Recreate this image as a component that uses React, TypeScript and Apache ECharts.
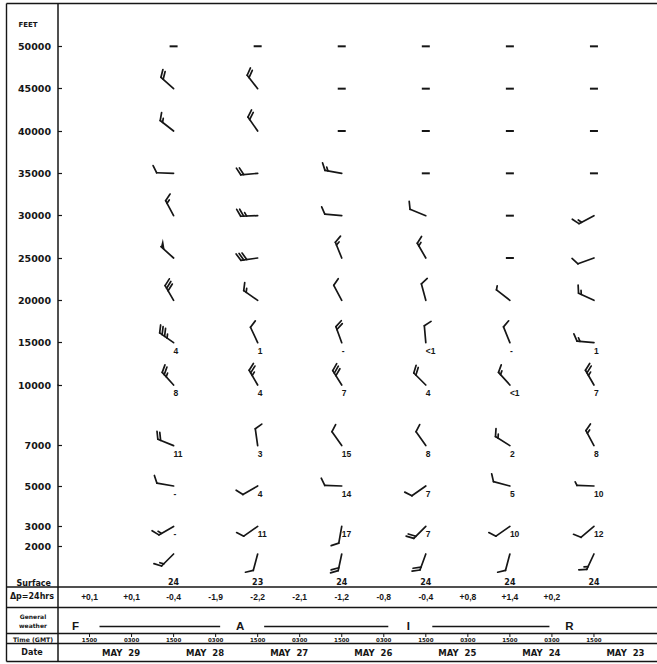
import React, { useEffect, useRef } from 'react';
import * as echarts from 'echarts';

// ---------------- DATA ----------------
// Sounding columns (left → right), all at 1500 GMT
const days = [28, 27, 26, 25, 24, 23];
const obsHour = 15;

// Wind direction (deg, blowing from) and speed (kt); null = missing ("–")
const dir50000 = [null, null, null, null, null, null];
const spd50000 = [null, null, null, null, null, null];
const dir45000 = [312, 322, null, null, null, null];
const spd45000 = [20, 20, null, null, null, null];
const dir40000 = [308, 325, null, null, null, null];
const spd40000 = [15, 20, null, null, null, null];
const dir35000 = [272, 265, 280, null, null, null];
const spd35000 = [10, 20, 15, null, null, null];
const dir30000 = [332, 268, 275, 292, null, 242];
const spd30000 = [15, 25, 10, 10, null, 15];
const dir25000 = [312, 262, 338, 330, null, 250];
const spd25000 = [50, 30, 15, 15, null, 10];
const dir20000 = [330, 305, 332, 345, 308, 295];
const spd20000 = [30, 15, 10, 10, 5, 15];
const dir15000 = [305, 335, 340, 355, 338, 275];
const spd15000 = [35, 10, 20, 10, 10, 15];
const dir10000 = [318, 330, 328, 315, 318, 330];
const spd10000 = [25, 25, 30, 20, 15, 25];
const dir7000 = [292, 352, 325, 325, 302, 332];
const spd7000 = [20, 10, 10, 10, 15, 15];
const dir5000 = [280, 240, 272, 235, 285, 272];
const spd5000 = [10, 10, 10, 10, 10, 5];
const dir3000 = [240, 235, 190, 225, 235, 230];
const spd3000 = [15, 10, 10, 20, 10, 10];
const dirSurface = [225, 195, 192, 200, 195, 205];
const spdSurface = [15, 10, 20, 20, 10, 15];

// Temperatures (°C) written beside the stations
const temp15000 = ['4', '1', '-', '<1', '-', '1'];
const temp10000 = ['8', '4', '7', '4', '<1', '7'];
const temp7000 = ['11', '3', '15', '8', '2', '8'];
const temp5000 = ['-', '4', '14', '7', '5', '10'];
const temp3000 = ['-', '11', '17', '7', '10', '12'];
const tempSurface = ['24', '23', '24', '24', '24', '24'];

// Y axis tick labels (feet)
const upperTicks = [10000, 15000, 20000, 25000, 30000, 35000, 40000, 45000, 50000];
const lowerTicks = [2000, 3000, 5000, 7000];

// Δp over 24 hrs
const dpDays = [29, 29, 28, 28, 27, 27, 26, 26, 25, 25, 24, 24];
const dpHours = [15, 3, 15, 3, 15, 3, 15, 3, 15, 3, 15, 3];
const dpValues = ['+0,1', '+0,1', '-0,4', '-1,9', '-2,2', '-2,1', '-1,2', '-0,8', '-0,4', '+0,8', '+1,4', '+0,2'];

// General weather
const weatherLetters = ['F', 'A', 'I', 'R'];
const weatherDays = [29, 27, 25, 23];
const weatherHours = [19, 20, 20, 22];

// Time (GMT) row
const timeDays = [29, 29, 28, 28, 27, 27, 26, 26, 25, 25, 24, 24, 23];
const timeHours = [15, 3, 15, 3, 15, 3, 15, 3, 15, 3, 15, 3, 15];

// Date row
const dateDays = [29, 28, 27, 26, 25, 24, 23];
const dateLabelHour = 6;

// ---------------- STYLE / LAYOUT ----------------
const INK = '#161616';
const SANS = 'DejaVu Sans';
const ARIAL = 'Liberation Sans';
const W = 657;
const H = 664;
const AXIS_X = 58;
const FRAME_L = 6.5;
const TOP = 4;
const MID = 385;
const SURF = 587;
const LINE_DP = 607.5;
const LINE_WX = 633.5;
const LINE_TIME = 643.5;
const BOTTOM = 661.5;
const SFC_LIFT = 33;
const STAFF = 17;
const FEATHER = 8;
const GAP = 3;
const FEATHER_ANGLE = 62;

const toHours = (day: number, hour: number) => (day - 22) * 24 + hour;

type BarbItem = { t: number; level: number; dir: number | null; spd: number | null };
type TempItem = { t: number; level: number; text: string };

const upperRows: [number, (number | null)[], (number | null)[]][] = [
  [50000, dir50000, spd50000],
  [45000, dir45000, spd45000],
  [40000, dir40000, spd40000],
  [35000, dir35000, spd35000],
  [30000, dir30000, spd30000],
  [25000, dir25000, spd25000],
  [20000, dir20000, spd20000],
  [15000, dir15000, spd15000],
  [10000, dir10000, spd10000],
];
const lowerRows: [number, (number | null)[], (number | null)[]][] = [
  [7000, dir7000, spd7000],
  [5000, dir5000, spd5000],
  [3000, dir3000, spd3000],
  [0, dirSurface, spdSurface],
];
const tempRows: [number, string[]][] = [
  [15000, temp15000],
  [10000, temp10000],
  [7000, temp7000],
  [5000, temp5000],
  [3000, temp3000],
  [0, tempSurface],
];

function buildBarbs(rows: [number, (number | null)[], (number | null)[]][]): BarbItem[] {
  const out: BarbItem[] = [];
  rows.forEach(([level, dirs, spds]) => {
    days.forEach((d, i) => {
      out.push({ t: toHours(d, obsHour), level, dir: dirs[i], spd: spds[i] });
    });
  });
  return out;
}

function buildTemps(rows: [number, string[]][], upper: boolean): TempItem[] {
  const out: TempItem[] = [];
  rows.forEach(([level, temps]) => {
    if ((level >= 10000) !== upper) return;
    days.forEach((d, i) => out.push({ t: toHours(d, obsHour), level, text: temps[i] }));
  });
  return out;
}

const upperBarbs = buildBarbs(upperRows);
const lowerBarbs = buildBarbs(lowerRows);
const upperTemps = buildTemps(tempRows, true);
const lowerTemps = buildTemps(tempRows, false);

function barbRenderer(items: BarbItem[]) {
  return (params: any, api: any) => {
    const it = items[params.dataIndex];
    const p = api.coord([it.t, it.level]);
    const sx = p[0];
    const sy = it.level === 0 ? p[1] - SFC_LIFT : p[1];
    if (it.dir == null || it.spd == null) {
      return { type: 'rect', shape: { x: sx - 4, y: sy - 1, width: 8, height: 2 }, style: { fill: INK } };
    }
    const a = (it.dir * Math.PI) / 180;
    const ux = Math.sin(a);
    const uy = -Math.cos(a);
    const tx = sx + ux * STAFF;
    const ty = sy + uy * STAFF;
    const b = ((it.dir + FEATHER_ANGLE) * Math.PI) / 180;
    const fx = Math.sin(b);
    const fy = -Math.cos(b);
    const stroke = { stroke: INK, lineWidth: 1.7, lineCap: 'round' };
    const children: any[] = [
      { type: 'line', shape: { x1: sx, y1: sy, x2: tx, y2: ty }, style: stroke },
    ];
    let s = it.spd;
    let d = 0;
    while (s >= 50) {
      const bx = tx - ux * d;
      const by = ty - uy * d;
      children.push({
        type: 'polygon',
        shape: { points: [[bx, by], [bx + fx * FEATHER, by + fy * FEATHER], [tx - ux * (d + 5), ty - uy * (d + 5)]] },
        style: { fill: INK },
      });
      d += 6;
      s -= 50;
    }
    while (s >= 10) {
      const bx = tx - ux * d;
      const by = ty - uy * d;
      children.push({ type: 'line', shape: { x1: bx, y1: by, x2: bx + fx * FEATHER, y2: by + fy * FEATHER }, style: stroke });
      d += GAP;
      s -= 10;
    }
    if (s >= 5) {
      const bx = tx - ux * d;
      const by = ty - uy * d;
      children.push({
        type: 'line',
        shape: { x1: bx, y1: by, x2: bx + fx * FEATHER * 0.5, y2: by + fy * FEATHER * 0.5 },
        style: stroke,
      });
    }
    return { type: 'group', children };
  };
}

function tempRenderer(items: TempItem[]) {
  return (params: any, api: any) => {
    const it = items[params.dataIndex];
    const p = api.coord([it.t, it.level]);
    if (it.level === 0) {
      return {
        type: 'text',
        x: p[0],
        y: p[1] - 5,
        style: { text: it.text, fill: INK, fontFamily: SANS, fontWeight: 'bold', fontSize: 8, align: 'center', verticalAlign: 'middle' },
      };
    }
    return {
      type: 'text',
      x: p[0],
      y: p[1] + 8,
      style: { text: it.text, fill: INK, fontFamily: ARIAL, fontWeight: 'bold', fontSize: 8.5, align: 'left', verticalAlign: 'middle' },
    };
  };
}

function textRow(
  times: number[],
  labels: string[],
  y: number,
  font: { family: string; size: number; weight?: string }
) {
  return {
    type: 'custom',
    xAxisIndex: 1,
    yAxisIndex: 1,
    silent: true,
    clip: false,
    data: times.map((t) => [t, 0]),
    renderItem: (params: any, api: any) => {
      const x = api.coord([times[params.dataIndex], 0])[0];
      return {
        type: 'text',
        x,
        y,
        style: {
          text: labels[params.dataIndex],
          fill: INK,
          fontFamily: font.family,
          fontSize: font.size,
          fontWeight: font.weight || 'bold',
          align: 'center',
          verticalAlign: 'middle',
        },
      };
    },
  };
}

const dpTimes = dpDays.map((d, i) => toHours(d, dpHours[i]));
const timeTimes = timeDays.map((d, i) => toHours(d, timeHours[i]));
const timeLabels = timeHours.map((h) => (h === 15 ? '1500' : '0300'));
const dateTimes = dateDays.map((d) => toHours(d, dateLabelHour));
const dateLabels = dateDays.map((d) => 'MAY  ' + d);
const weatherTimes = weatherDays.map((d, i) => toHours(d, weatherHours[i]));

const hLine = (y: number, x1 = FRAME_L, x2 = W, w = 1.4) => ({
  type: 'line',
  shape: { x1, y1: y, x2, y2: y },
  style: { stroke: INK, lineWidth: w },
  silent: true,
});
const vLine = (x: number, y1: number, y2: number, w = 1.4) => ({
  type: 'line',
  shape: { x1: x, y1, x2: x, y2 },
  style: { stroke: INK, lineWidth: w },
  silent: true,
});
const label = (text: string, x: number, y: number, size: number, family = SANS) => ({
  type: 'text',
  x,
  y,
  silent: true,
  style: { text, fill: INK, fontFamily: family, fontWeight: 'bold', fontSize: size, align: 'center', verticalAlign: 'middle' },
});

export default function App() {
  const ref = useRef<HTMLDivElement>(null);

  useEffect(() => {
    document.body.style.margin = '0';
    document.body.style.background = '#fff';
    if (!ref.current) return;
    const chart = echarts.init(ref.current, null, { renderer: 'svg' });

    const axisLabelBase = { color: INK, fontFamily: SANS, fontWeight: 'bold', fontSize: 9.5, margin: 7 };

    const option: any = {
      animation: false,
      backgroundColor: '#fff',
      grid: [
        { left: AXIS_X, right: 0, top: TOP, height: MID - TOP },
        { left: AXIS_X, right: 0, top: MID, height: SURF - MID },
      ],
      xAxis: [0, 1].map((i) => ({ type: 'value', gridIndex: i, min: 21, max: 192, inverse: true, show: false })),
      yAxis: [
        {
          type: 'value',
          gridIndex: 0,
          min: 10000,
          max: 55000,
          interval: 5000,
          axisLine: { show: true, lineStyle: { color: INK, width: 1.5 } },
          axisTick: { show: true, inside: true, length: 4, lineStyle: { color: INK, width: 1.2 }, customValues: upperTicks },
          axisLabel: { ...axisLabelBase, customValues: upperTicks, formatter: (v: number) => String(v) },
          splitLine: { show: false },
        },
        {
          type: 'value',
          gridIndex: 1,
          min: 0,
          max: 10000,
          interval: 1000,
          axisLine: { show: true, lineStyle: { color: INK, width: 1.5 } },
          axisTick: { show: true, inside: true, length: 4, lineStyle: { color: INK, width: 1.2 }, customValues: lowerTicks },
          axisLabel: {
            ...axisLabelBase,
            customValues: [0, ...lowerTicks],
            formatter: (v: number) => (v === 0 ? '{s|Surface}' : String(v)),
            rich: { s: { fontFamily: SANS, fontWeight: 'bold', fontSize: 8, color: INK, padding: [0, 0, 8, 0] } },
          },
          splitLine: { show: false },
        },
      ],
      series: [
        {
          type: 'custom',
          xAxisIndex: 0,
          yAxisIndex: 0,
          silent: true,
          clip: false,
          data: upperBarbs.map((b) => [b.t, b.level]),
          renderItem: barbRenderer(upperBarbs),
        },
        {
          type: 'custom',
          xAxisIndex: 1,
          yAxisIndex: 1,
          silent: true,
          clip: false,
          data: lowerBarbs.map((b) => [b.t, b.level]),
          renderItem: barbRenderer(lowerBarbs),
        },
        {
          type: 'custom',
          xAxisIndex: 0,
          yAxisIndex: 0,
          silent: true,
          clip: false,
          data: upperTemps.map((b) => [b.t, b.level]),
          renderItem: tempRenderer(upperTemps),
        },
        {
          type: 'custom',
          xAxisIndex: 1,
          yAxisIndex: 1,
          silent: true,
          clip: false,
          data: lowerTemps.map((b) => [b.t, b.level]),
          renderItem: tempRenderer(lowerTemps),
        },
        textRow(dpTimes, dpValues, 596.5, { family: ARIAL, size: 8.5 }),
        textRow(timeTimes, timeLabels, 639.5, { family: SANS, size: 5.5 }),
        textRow(dateTimes, dateLabels, 652.5, { family: SANS, size: 8.5 }),
        // time ticks
        {
          type: 'custom',
          xAxisIndex: 1,
          yAxisIndex: 1,
          silent: true,
          clip: false,
          data: timeTimes.map((t) => [t, 0]),
          renderItem: (params: any, api: any) => {
            const x = api.coord([timeTimes[params.dataIndex], 0])[0];
            return { type: 'line', shape: { x1: x, y1: LINE_WX, x2: x, y2: LINE_WX + 3.5 }, style: { stroke: INK, lineWidth: 1 } };
          },
        },
        // general weather letters and connecting lines
        {
          type: 'custom',
          xAxisIndex: 1,
          yAxisIndex: 1,
          silent: true,
          clip: false,
          data: weatherTimes.map((t) => [t, 0]),
          renderItem: (params: any, api: any) => {
            const i = params.dataIndex;
            const x = api.coord([weatherTimes[i], 0])[0];
            const children: any[] = [
              {
                type: 'text',
                x,
                y: 626,
                style: {
                  text: weatherLetters[i],
                  fill: INK,
                  fontFamily: ARIAL,
                  fontWeight: 'bold',
                  fontSize: 11.5,
                  align: 'center',
                  verticalAlign: 'middle',
                },
              },
            ];
            if (i < weatherTimes.length - 1) {
              const nx = api.coord([weatherTimes[i + 1], 0])[0];
              children.push({
                type: 'line',
                shape: { x1: x + 24, y1: 626.5, x2: nx - 20, y2: 626.5 },
                style: { stroke: INK, lineWidth: 1.5 },
              });
            }
            return { type: 'group', children };
          },
        },
      ],
      graphic: {
        elements: [
          hLine(3.5),
          hLine(SURF),
          hLine(LINE_DP),
          hLine(LINE_WX),
          hLine(LINE_TIME),
          hLine(BOTTOM),
          vLine(FRAME_L, 3.5, BOTTOM),
          vLine(AXIS_X, SURF, BOTTOM, 1.5),
          label('FEET', 28, 25, 7),
          label('Δp=24hrs', 32, 596.5, 8),
          label('General', 33, 616.5, 6),
          label('weather', 33, 625, 6),
          label('Time (GMT)', 33, 639, 6.2),
          label('Date', 32, 652.5, 8),
        ],
      },
    };

    chart.setOption(option);
    return () => chart.dispose();
  }, []);

  return <div ref={ref} style={{ width: W, height: H }} />;
}
